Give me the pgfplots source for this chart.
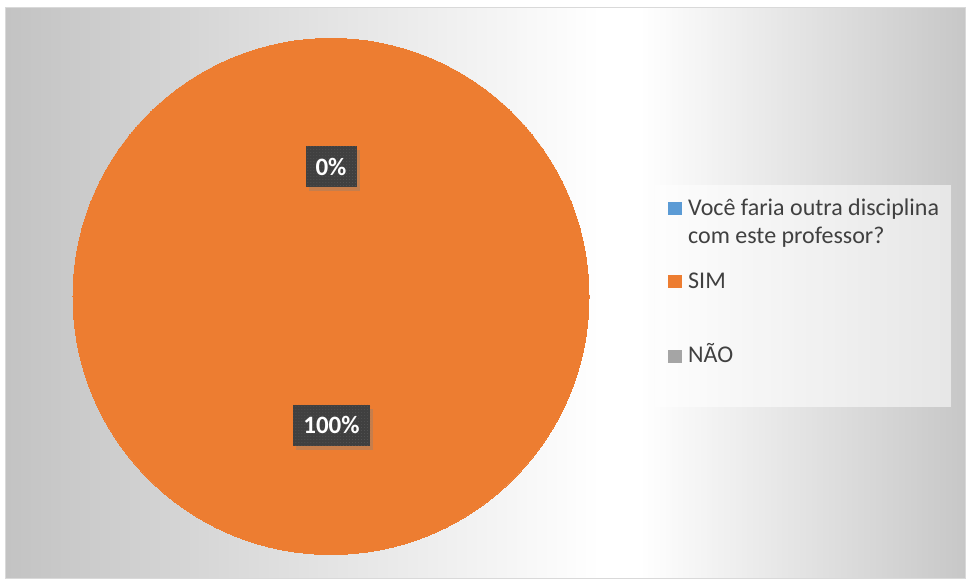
\documentclass[border=0pt]{standalone}
\usepackage{pgfplots}
\pgfplotsset{compat=1.18}
\usepackage{fontspec}
\setmainfont{Carlito}
\usetikzlibrary{shadows,patterns}
\definecolor{pieorange}{HTML}{ED7D31}
\definecolor{pieblue}{HTML}{5B9BD5}
\definecolor{piegray}{HTML}{A5A5A5}
\definecolor{lblbox}{HTML}{404040}
\definecolor{lbldot}{HTML}{555555}
\definecolor{legtext}{HTML}{404040}
\definecolor{bgleft}{HTML}{C3C3C3}
\definecolor{bgright}{HTML}{C7C7C7}
\definecolor{bdr}{HTML}{D9D9D9}
\pgfdeclarehorizontalshading{bgshade}{100bp}{color(0bp)=(bgleft); color(25bp)=(bgleft); color(56bp)=(white); color(58bp)=(white); color(75bp)=(bgright); color(100bp)=(bgright)}
\begin{document}
\begin{tikzpicture}
\begin{axis}[scale only axis, width=970bp, height=583bp,
  xmin=0, xmax=970, ymin=0, ymax=583, hide axis, clip=false]
% background
\fill[white] (axis cs:0,0) rectangle (axis cs:970,583);
\shade[shading=bgshade] (axis cs:5.5,5) rectangle (axis cs:965.5,575.5);
\draw[bdr, line width=1bp] (axis cs:5.5,5) rectangle (axis cs:965.5,575.5);
% pie: SIM = 100%, NAO = 0%, full disc
\addplot[only marks, color=pieorange, mark=*, mark size=258bp, mark options={draw=pieorange, fill=pieorange, line width=0pt}] coordinates {(331,286.5)};
\coordinate (L0) at (axis cs:331,416.5);
\coordinate (L100) at (axis cs:331.5,158);
\coordinate (LB1) at (axis cs:655,176);
\coordinate (LB2) at (axis cs:951,398);
\coordinate (S1) at (axis cs:668,368);
\coordinate (S1b) at (axis cs:682,381);
\coordinate (S2) at (axis cs:668,295);
\coordinate (S2b) at (axis cs:682,308);
\coordinate (S3) at (axis cs:668,220);
\coordinate (S3b) at (axis cs:682,233);
\coordinate (T1) at (axis cs:688,367);
\coordinate (T2) at (axis cs:688,339);
\coordinate (T3) at (axis cs:688,294);
\coordinate (T4) at (axis cs:688,220);
\end{axis}
% data labels
\node[fill=lblbox, postaction={pattern=dots, pattern color=lbldot},
  drop shadow={shadow xshift=3bp, shadow yshift=-4bp, opacity=0.35},
  text=white, font=\bfseries\fontsize{25bp}{30bp}\selectfont,
  minimum width=51bp, minimum height=41bp, inner sep=0pt]
  at (L0) {0\%};
\node[fill=lblbox, postaction={pattern=dots, pattern color=lbldot},
  drop shadow={shadow xshift=3bp, shadow yshift=-4bp, opacity=0.35},
  text=white, font=\bfseries\fontsize{25bp}{30bp}\selectfont,
  minimum width=77bp, minimum height=41bp, inner sep=0pt]
  at (L100) {100\%};
% legend
\fill[white, opacity=0.55] (LB1) rectangle (LB2);
\fill[pieblue] (S1) rectangle (S1b);
\fill[pieorange] (S2) rectangle (S2b);
\fill[piegray] (S3) rectangle (S3b);
\node[anchor=base west, inner sep=0pt, text=legtext, font=\fontsize{24bp}{28bp}\selectfont] at (T1) {Você faria outra disciplina};
\node[anchor=base west, inner sep=0pt, text=legtext, font=\fontsize{24bp}{28bp}\selectfont] at (T2) {com este professor?};
\node[anchor=base west, inner sep=0pt, text=legtext, font=\fontsize{24bp}{28bp}\selectfont] at (T3) {SIM};
\node[anchor=base west, inner sep=0pt, text=legtext, font=\fontsize{24bp}{28bp}\selectfont] at (T4) {NÃO};
\end{tikzpicture}
\end{document}
